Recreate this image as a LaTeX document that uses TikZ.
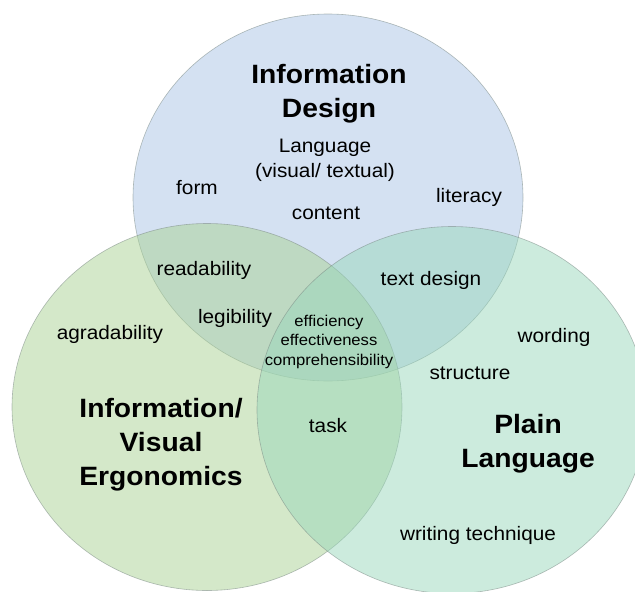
\documentclass[tikz,border=0pt]{standalone}
\usepackage{fontspec}
\setmainfont{Liberation Sans}[FakeStretch=1.066]
\usetikzlibrary{shapes.geometric}
\definecolor{idblue}{RGB}{169,195,229}
\definecolor{vegreen}{RGB}{169,209,147}
\definecolor{plteal}{RGB}{153,215,187}
\definecolor{rimgray}{RGB}{120,135,130}
\begin{document}
\begin{tikzpicture}[x=1pt,y=-1pt,
  venn/.style={ellipse, inner sep=0pt, minimum width=390pt, minimum height=367pt,
    fill opacity=0.5, draw=rimgray, draw opacity=0.55, line width=0.6pt},
  lbl/.style={inner sep=0pt, anchor=base, align=center,
    font=\fontsize{19.5}{25}\selectfont},
  head/.style={inner sep=0pt, anchor=base, align=center,
    font=\fontsize{26.5}{34}\selectfont\bfseries},
  core/.style={inner sep=0pt, anchor=base, align=center,
    font=\fontsize{15.6}{19.5}\selectfont}]
\useasboundingbox (0,0) rectangle (635,592);
\clip (0,0) rectangle (635,592);

% the three overlapping sets
\node[venn, fill=idblue]  (design)  at (328,197.5) {};
\node[venn, fill=vegreen] (ergo)    at (207,407) {};
\node[venn, fill=plteal]  (plain)   at (452,410) {};

% set headings (multi-line nodes sit on the baseline of their last line)
\node[head] (designhead) at (329,117) {Information\\Design};
\node[head] (ergohead)   at (161,485) {Information/\\Visual\\Ergonomics};
\node[head] (plainhead)  at (528,467) {Plain\\Language};

% terms inside the sets
\node[lbl] (language)  at (325,177) {Language\\(visual/ textual)};
\node[lbl] (form)      at (197,194) {form};
\node[lbl] (content)   at (326,219) {content};
\node[lbl] (literacy)  at (469,202) {literacy};
\node[lbl] (readab)    at (204,275) {readability};
\node[lbl] (textdes)   at (431,285) {text design};
\node[lbl] (legib)     at (235,323) {legibility};
\node[lbl] (agrad)     at (110,339) {agradability};
\node[lbl] (wording)   at (554,342) {wording};
\node[lbl] (structure) at (470,379) {structure};
\node[lbl] (task)      at (328,432) {task};
\node[lbl] (writing)   at (478,540) {writing technique};

% common core of all three sets
\node[core] (core) at (329,365) {efficiency\\effectiveness\\comprehensibility};
\end{tikzpicture}
\end{document}
